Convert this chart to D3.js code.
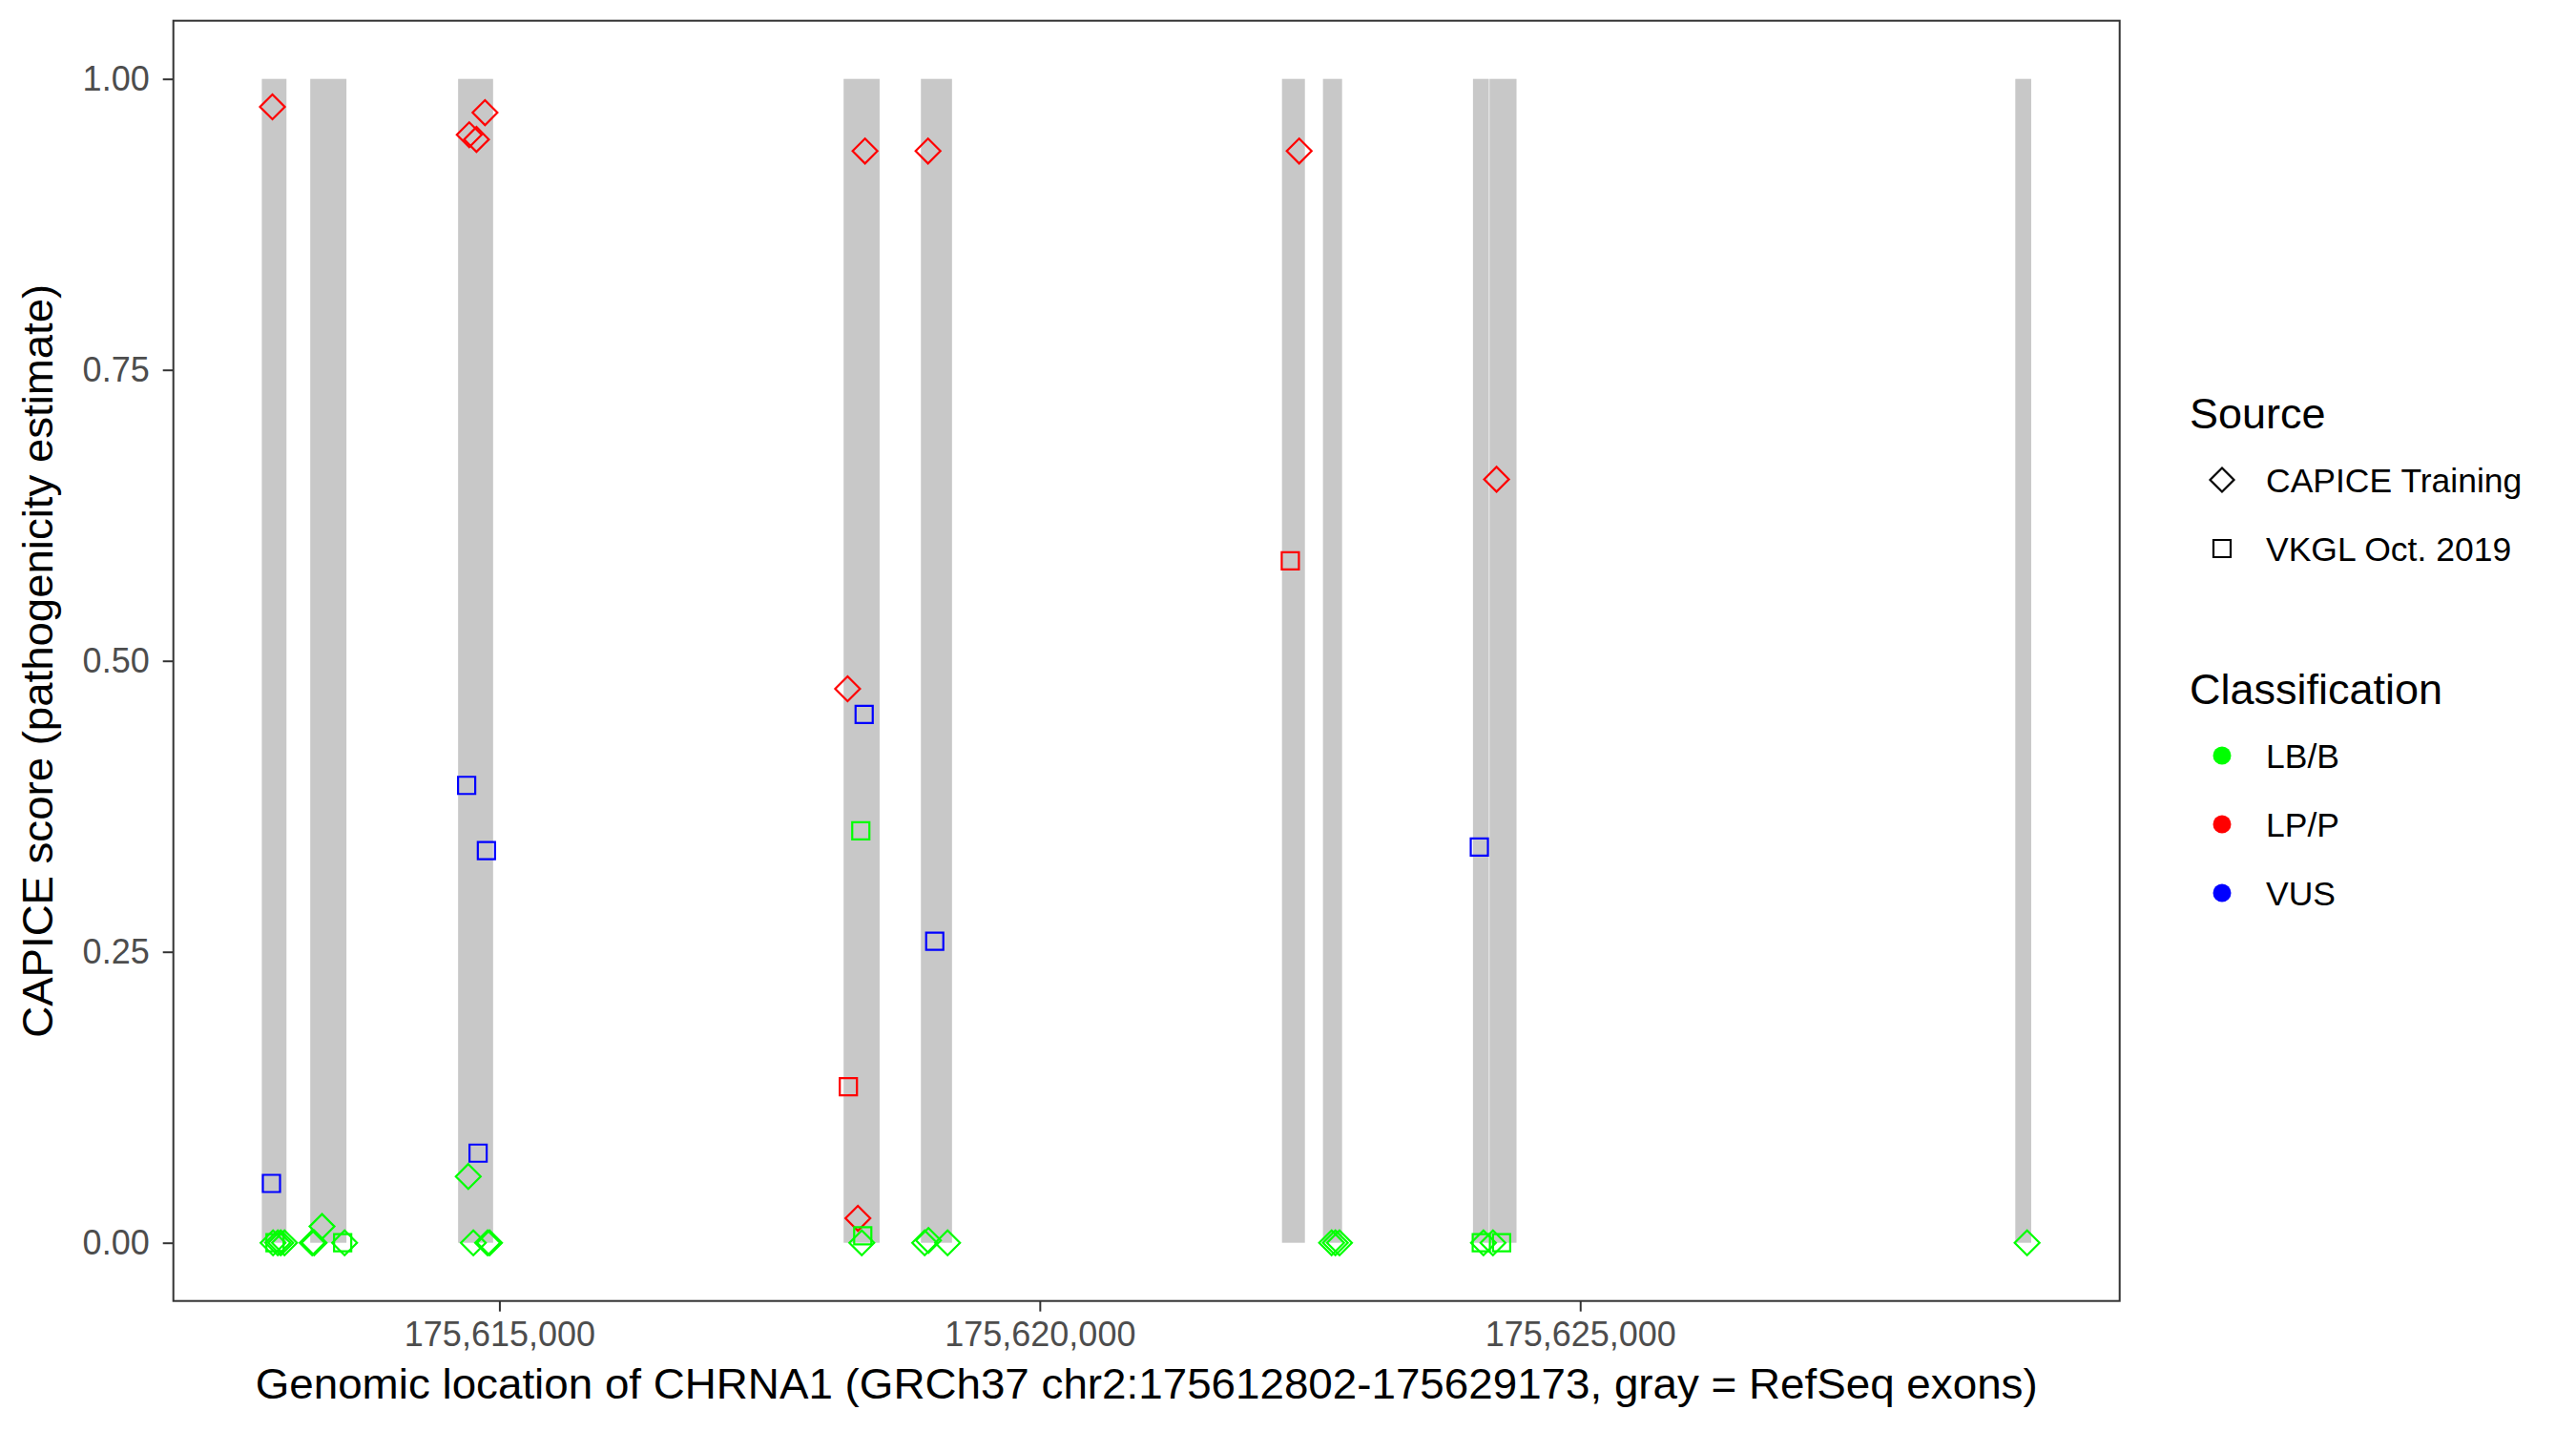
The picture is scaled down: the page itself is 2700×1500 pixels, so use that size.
<!DOCTYPE html>
<html>
<head>
<meta charset="utf-8">
<script src="https://cdn.jsdelivr.net/npm/d3@7"></script>
<style>
  body { margin: 0; background: #fff; }
  text { font-family: "Liberation Sans", Arial, sans-serif; }
</style>
</head>
<body>
<div id="chart"></div>
<script>
// RefSeq exons of CHRNA1 (GRCh37), start / end in bp
const exonStart = [175612802, 175613250, 175614618, 175618185, 175618900, 175622241, 175622620, 175624008, 175624161, 175629026];
const exonEnd   = [175613030, 175613585, 175614942, 175618518, 175619188, 175622453, 175622797, 175624155, 175624411, 175629173];

// variants: position, CAPICE score, source, classification
const varPos = [
  175612900, 175612891, 175612906, 175612924, 175612950, 175612977, 175613012,
  175613359, 175613268, 175613286, 175613550, 175613568,
  175614867, 175614721, 175614788, 175614697, 175614880, 175614803, 175614712, 175614759, 175614891, 175614909,
  175618222, 175618383, 175618375, 175618344, 175618229, 175618317, 175618362, 175618353,
  175618966, 175619028, 175618935, 175618970, 175619147,
  175622400, 175622318,
  175622700, 175622735, 175622773,
  175624226, 175624067, 175624085, 175624105, 175624193, 175624273,
  175629135
];
const varScore = [
  0.976, 0.051, 0, 0, 0, 0, 0,
  0.014, 0, 0, 0, 0,
  0.971, 0.952, 0.948, 0.393, 0.337, 0.077, 0.057, 0, 0, 0,
  0.476, 0.938, 0.454, 0.354, 0.134, 0.021, 0.006, 0,
  0.938, 0.259, 0, 0.002, 0,
  0.938, 0.586,
  0, 0, 0,
  0.656, 0.340, 0, 0, 0, 0,
  0
];
const varSource = [
  "C", "V", "C", "V", "C", "C", "C",
  "C", "C", "C", "V", "C",
  "C", "C", "C", "V", "V", "V", "C", "C", "C", "C",
  "C", "C", "V", "V", "V", "C", "V", "C",
  "C", "V", "C", "C", "C",
  "C", "V",
  "C", "C", "C",
  "C", "V", "V", "C", "C", "V",
  "C"
];
const varClass = [
  "LP/P", "VUS", "LB/B", "LB/B", "LB/B", "LB/B", "LB/B",
  "LB/B", "LB/B", "LB/B", "LB/B", "LB/B",
  "LP/P", "LP/P", "LP/P", "VUS", "VUS", "VUS", "LB/B", "LB/B", "LB/B", "LB/B",
  "LP/P", "LP/P", "VUS", "LB/B", "LP/P", "LP/P", "LB/B", "LB/B",
  "LP/P", "VUS", "LB/B", "LB/B", "LB/B",
  "LP/P", "LP/P",
  "LB/B", "LB/B", "LB/B",
  "LP/P", "VUS", "LB/B", "LB/B", "LB/B", "LB/B",
  "LB/B"
];

const sourceNames = { C: "CAPICE Training", V: "VKGL Oct. 2019" };
const classNames = ["LB/B", "LP/P", "VUS"];
const classColors = ["#00ff00", "#ff0000", "#0000ff"];
const xTicks = [175615000, 175620000, 175625000];
const yTicks = [0, 0.25, 0.5, 0.75, 1];

const W = 2700, H = 1500;
const margin = { top: 21.7, left: 181.7, right: 478.3, bottom: 136.3 };
const pw = W - margin.left - margin.right;
const ph = H - margin.top - margin.bottom;

const color = d3.scaleOrdinal().domain(classNames).range(classColors);

const xMin = d3.min(exonStart), xMax = d3.max(exonEnd);
const xPad = (xMax - xMin) * 0.05;
const x = d3.scaleLinear().domain([xMin - xPad, xMax + xPad]).range([0, pw]);
const y = d3.scaleLinear().domain([-0.05, 1.05]).range([ph, 0]);

const diamond = r => `M0,${-r}L${r},0L0,${r}L${-r},0Z`;
const square = r => `M${-r},${-r}H${r}V${r}H${-r}Z`;
const shape = s => s === "C" ? diamond(13) : square(9);

const svg = d3.select("#chart").append("svg")
  .attr("width", W).attr("height", H);

const g = svg.append("g").attr("transform", `translate(${margin.left},${margin.top})`);

// exon bands
const exons = exonStart.map((s, i) => ({ s, e: exonEnd[i] }));
g.selectAll("rect.exon")
  .data(exons)
  .enter().append("rect")
  .attr("class", "exon")
  .attr("x", d => x(d.s))
  .attr("width", d => x(d.e) - x(d.s))
  .attr("y", y(1))
  .attr("height", y(0) - y(1))
  .attr("fill", "#c8c8c8");

// variants
const variants = varPos.map((p, i) => ({ p, v: varScore[i], s: varSource[i], c: varClass[i] }));
g.selectAll("path.pt")
  .data(variants)
  .enter().append("path")
  .attr("class", "pt")
  .attr("transform", d => `translate(${x(d.p)},${y(d.v)})`)
  .attr("d", d => shape(d.s))
  .attr("fill", "none")
  .attr("stroke", d => color(d.c))
  .attr("stroke-width", 2.2);

// panel border
g.append("rect")
  .attr("width", pw).attr("height", ph)
  .attr("fill", "none")
  .attr("stroke", "#333333")
  .attr("stroke-width", 2);

// axes
const xAxis = g.append("g")
  .attr("transform", `translate(0,${ph})`)
  .call(d3.axisBottom(x).tickValues(xTicks).tickFormat(d3.format(",")).tickSize(11).tickPadding(11));
const yAxis = g.append("g")
  .call(d3.axisLeft(y).tickValues(yTicks).tickFormat(d3.format(".2f")).tickSize(11).tickPadding(14));

[xAxis, yAxis].forEach(a => {
  a.select(".domain").remove();
  a.selectAll(".tick line").attr("stroke", "#333333").attr("stroke-width", 2);
  a.selectAll(".tick text")
    .attr("fill", "#4d4d4d")
    .style("font-size", "36px")
    .style("font-family", "'Liberation Sans', Arial, sans-serif");
});

// axis titles
svg.append("text")
  .attr("x", margin.left + pw / 2)
  .attr("y", 1466)
  .attr("text-anchor", "middle")
  .attr("textLength", 1868)
  .attr("lengthAdjust", "spacingAndGlyphs")
  .style("font-size", "45px")
  .text("Genomic location of CHRNA1 (GRCh37 chr2:175612802-175629173, gray = RefSeq exons)");

svg.append("text")
  .attr("transform", `translate(55,${margin.top + ph / 2}) rotate(-90)`)
  .attr("text-anchor", "middle")
  .attr("textLength", 790)
  .attr("lengthAdjust", "spacingAndGlyphs")
  .style("font-size", "45px")
  .text("CAPICE score (pathogenicity estimate)");

// legends
const leg = svg.append("g");
const lx = 2295, keyX = 2329, txtX = 2375;

leg.append("text").attr("x", lx).attr("y", 449).style("font-size", "45px").text("Source");
["C", "V"].forEach((s, i) => {
  const cy = 503 + i * 72;
  leg.append("path")
    .attr("transform", `translate(${keyX},${cy})`)
    .attr("d", s === "C" ? diamond(12.5) : square(9))
    .attr("fill", "none")
    .attr("stroke", "#000")
    .attr("stroke-width", 2.2);
  leg.append("text")
    .attr("x", txtX).attr("y", cy).attr("dy", "0.36em")
    .style("font-size", "35.5px")
    .text(sourceNames[s]);
});

leg.append("text").attr("x", lx).attr("y", 738).style("font-size", "45px").text("Classification");
classNames.forEach((c, i) => {
  const cy = 792 + i * 72;
  leg.append("circle")
    .attr("cx", keyX).attr("cy", cy).attr("r", 9.5)
    .attr("fill", color(c));
  leg.append("text")
    .attr("x", txtX).attr("y", cy).attr("dy", "0.36em")
    .style("font-size", "35.5px")
    .text(c);
});
</script>
</body>
</html>
